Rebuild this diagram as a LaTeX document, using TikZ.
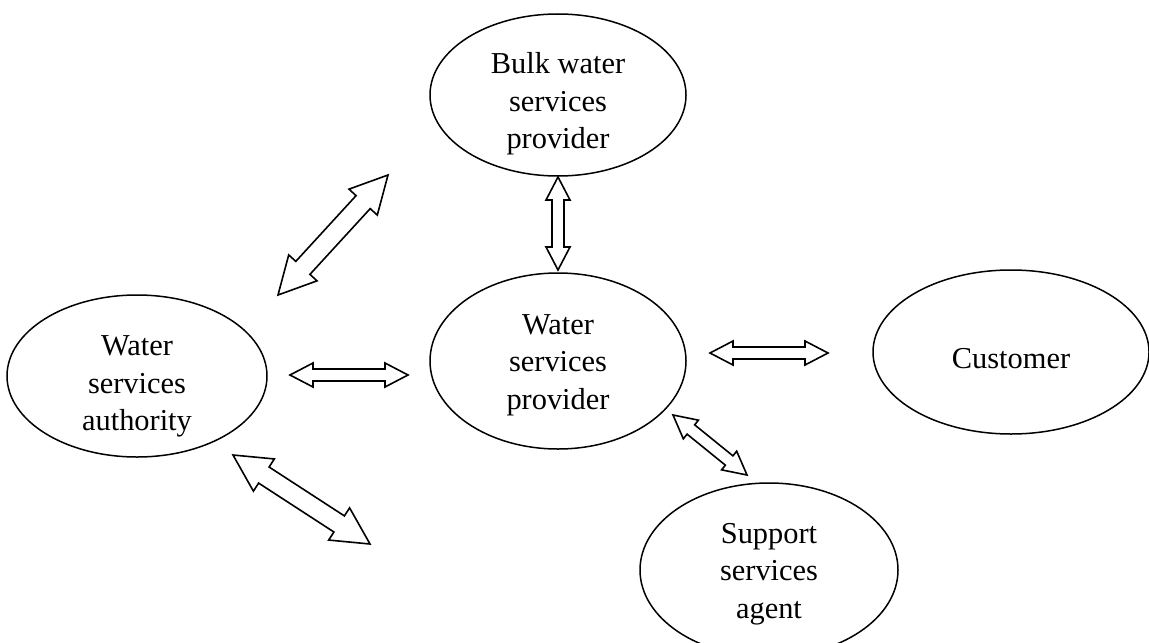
\documentclass[tikz,border=0pt]{standalone}
\usepackage{fontspec}
\setmainfont{Liberation Serif}
\usetikzlibrary{calc,shapes.geometric}

\newcommand{\blockarrow}[3][1]{%
  \pgfmathsetlengthmacro{\hl}{#1*11.5pt}%
  \pgfmathsetlengthmacro{\hw}{#1*6pt}%
  \pgfmathsetlengthmacro{\sw}{#1*3pt}%
  \draw[blockline] (#2)
    -- ($(#2)!\hl!(#3)!\hw!90:(#3)$)
    -- ($(#2)!\hl!(#3)!\sw!90:(#3)$)
    -- ($(#3)!\hl!(#2)!\sw!-90:(#2)$)
    -- ($(#3)!\hl!(#2)!\hw!-90:(#2)$)
    -- (#3)
    -- ($(#3)!\hl!(#2)!\hw!90:(#2)$)
    -- ($(#3)!\hl!(#2)!\sw!90:(#2)$)
    -- ($(#2)!\hl!(#3)!\sw!-90:(#3)$)
    -- ($(#2)!\hl!(#3)!\hw!-90:(#3)$)
    -- cycle;}

\begin{document}
\begin{tikzpicture}[x=0.5pt, y=-0.5pt,
  party/.style={ellipse, draw, line width=0.75pt, inner xsep=0pt, inner ysep=-14pt,
    align=center, font=\fontsize{15.2}{18.8}\selectfont},
  blockline/.style={draw, fill=white, line width=0.8pt, line join=miter}]
\useasboundingbox (0,0) rectangle (1149,642);
\clip (0,0) rectangle (1149,642);
\node[party, minimum width=128pt, minimum height=81pt, text height=57pt] (bwsp) at (558,95) {Bulk water\\services\\provider};
\node[party, minimum width=128pt, minimum height=88pt, text height=51.5pt] (wsp) at (558,361) {Water\\services\\provider};
\node[party, minimum width=130pt, minimum height=81pt, text height=58pt] (wsa) at (137,376) {Water\\services\\authority};
\node[party, minimum width=138pt, minimum height=82pt, text height=17pt] (cus) at (1011,352) {Customer};
\node[party, minimum width=129pt, minimum height=87pt, text height=51.5pt] (ssa) at (769,570) {Support\\services\\agent};
\coordinate (wsa-bwsp-a) at (278,295);
\coordinate (wsa-bwsp-b) at (388,175);
\coordinate (bwsp-wsp-a) at (558,177);
\coordinate (bwsp-wsp-b) at (558,270);
\coordinate (wsa-wsp-a) at (290,375);
\coordinate (wsa-wsp-b) at (408,375);
\coordinate (wsp-cus-a) at (710,353);
\coordinate (wsp-cus-b) at (828,353);
\coordinate (wsp-ssa-a) at (673,415);
\coordinate (wsp-ssa-b) at (747,475);
\coordinate (wsa-low-a) at (233,455);
\coordinate (wsa-low-b) at (370,544);
\blockarrow[1.6]{wsa-bwsp-a}{wsa-bwsp-b}
\blockarrow{bwsp-wsp-a}{bwsp-wsp-b}
\blockarrow{wsa-wsp-a}{wsa-wsp-b}
\blockarrow{wsp-cus-a}{wsp-cus-b}
\blockarrow{wsp-ssa-a}{wsp-ssa-b}
\blockarrow[1.6]{wsa-low-a}{wsa-low-b}
\end{tikzpicture}
\end{document}
